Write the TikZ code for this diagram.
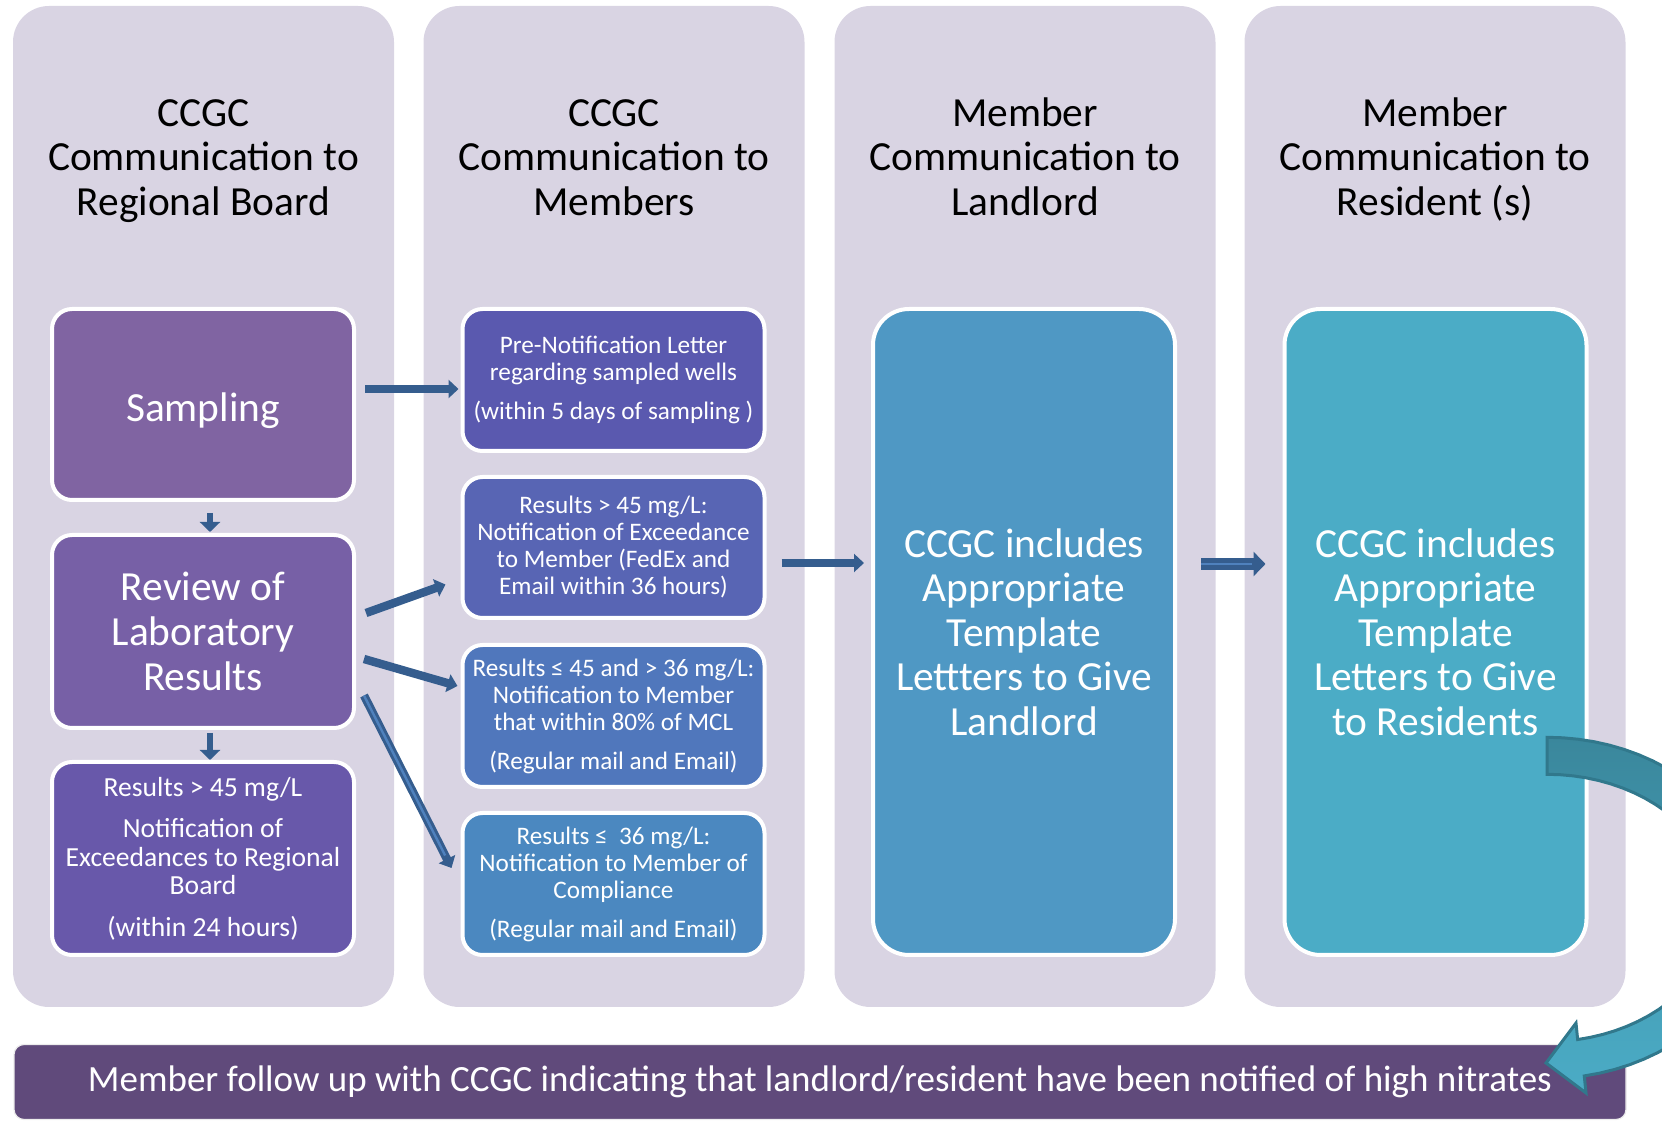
\documentclass[tikz,border=0pt]{standalone}
\usepackage{fontspec}
\setmainfont{Carlito}
\usepackage{xcolor}
\usetikzlibrary{arrows.meta}

\definecolor{colgray}{HTML}{D9D4E3}
\definecolor{sampcol}{HTML}{8064A2}
\definecolor{revcol}{HTML}{7760A6}
\definecolor{regcol}{HTML}{6858AA}
\definecolor{precol}{HTML}{5A59AF}
\definecolor{highcol}{HTML}{5865B4}
\definecolor{midcol}{HTML}{5077BC}
\definecolor{lowcol}{HTML}{4B88C0}
\definecolor{landcol}{HTML}{4F98C4}
\definecolor{rescol}{HTML}{4BACC6}
\definecolor{barcol}{HTML}{604A7B}
\definecolor{arrowblue}{HTML}{355D8E}
\definecolor{stripeblue}{HTML}{4F81BD}
\definecolor{curvetop}{HTML}{3A879C}
\definecolor{curveedge}{HTML}{31788C}

\begin{document}
\begin{tikzpicture}[x=0.5pt,y=-0.5pt,
        every node/.style = {align=center, inner sep=0pt},
        colbg/.style = {rectangle, rounded corners=18pt, fill=colgray,
            minimum width=190.5pt, minimum height=500.5pt},
        head/.style = {text=black, font=\fontsize{20.7}{22.3}\selectfont},
        stepbox/.style = {rectangle, rounded corners=10pt, draw=white,
            line width=2pt, text=white, minimum width=151pt},
        bigbox/.style = {stepbox, rounded corners=18pt, minimum height=323pt},
        bigtext/.style = {font=\fontsize{20.7}{22.3}\selectfont},
        smalltext/.style = {font=\fontsize{12.6}{13.5}\selectfont},
        blockarrow/.style = {draw=arrowblue, line width=4.2pt,
            -{Triangle[length=5pt,width=9pt]}},
        downarrow/.style = {draw=arrowblue, line width=3pt,
            -{Triangle[length=5pt,width=10pt]}},
        stripe/.style = {postaction={draw=stripeblue, line width=1.2pt,
            shorten >=7pt, -}}]
    \useasboundingbox (0,0) rectangle (1662,1122);

    \node[colbg] (col1) at (203.5,506.5) {};
    \node[colbg] (col2) at (614,506.5) {};
    \node[colbg] (col3) at (1025,506.5) {};
    \node[colbg] (col4) at (1435,506.5) {};

    \node[head] (h1) at (203.5,162) {\strut CCGC\\Communication to\\Regional Board\strut};
    \node[head] (h2) at (614,162) {\strut CCGC\\Communication to\\Members\strut};
    \node[head] (h3) at (1025,162) {\strut Member\\Communication to\\Landlord\strut};
    \node[head] (h4) at (1435,162) {\strut Member\\Communication to\\Resident (s)\strut};

    \node[stepbox, bigtext, fill=sampcol, minimum height=95.5pt,
        text height=16.6pt, text depth=0pt] (samp) at (203,404.5) {Sampling};
    \node[stepbox, bigtext, fill=revcol, minimum height=96.5pt] (rev) at (203,631.5)
        {Review of\\Laboratory\\Results};
    \node[stepbox, fill=regcol, minimum height=96.5pt,
        font=\fontsize{13.8}{14.3}\selectfont] (reg) at (203,858.5)
        {Results > 45 mg/L\\[6.4pt]Notification of\\Exceedances to Regional\\Board\\[6.4pt](within 24 hours)};

    \node[stepbox, smalltext, fill=precol, minimum height=71pt] (pre) at (613.5,380)
        {Pre-Notification Letter\\regarding sampled wells\\[6pt](within 5 days of sampling )};
    \node[stepbox, smalltext, fill=highcol, minimum height=70.5pt] (high) at (613.5,547.5)
        {Results > 45 mg/L:\\Notification of Exceedance\\to Member (FedEx and\\Email within 36 hours)};
    \node[stepbox, smalltext, fill=midcol, minimum height=71pt] (mid) at (613.5,716)
        {Results ≤ 45 and > 36 mg/L:\\Notification to Member\\that within 80\% of MCL\\[6pt](Regular mail and Email)};
    \node[stepbox, smalltext, fill=lowcol, minimum height=71pt] (low) at (613.5,884)
        {Results ≤\ \ 36 mg/L:\\Notification to Member of\\Compliance\\[6pt](Regular mail and Email)};

    \node[bigbox, bigtext, fill=landcol] (land) at (1024,632)
        {CCGC includes\\Appropriate\\Template\\Lettters to Give\\Landlord};
    \node[bigbox, bigtext, fill=rescol] (res) at (1435.5,632)
        {CCGC includes\\Appropriate\\Template\\Letters to Give\\to Residents};

    \node[rectangle, rounded corners=5pt, fill=barcol, draw=white!85!gray, line width=0.6pt,
        minimum width=806pt, minimum height=37.5pt, text=white,
        font=\fontsize{18.5}{20}\selectfont] (bar) at (820,1082)
        {Member follow up with CCGC indicating that landlord/resident have been notified of high nitrates};

    \draw[blockarrow] ([xshift=4.5pt,yshift=7.75pt]samp.east) -- ([xshift=-1pt,yshift=-4.5pt]pre.west);
    \draw[downarrow] ([xshift=3.5pt,yshift=-5.5pt]samp.south) -- ([xshift=3.5pt,yshift=0.5pt]rev.north);
    \draw[downarrow] ([xshift=3.5pt,yshift=-1.5pt]rev.south) -- ([xshift=3.5pt]reg.north);
    \draw[blockarrow] ([xshift=5pt,yshift=9.25pt]rev.east) -- ([xshift=-7.5pt,yshift=-18.5pt]high.west);
    \draw[blockarrow] ([xshift=4pt,yshift=-13.75pt]rev.east) -- ([xshift=-1.5pt,yshift=15pt]mid.west);
    \draw[blockarrow, stripe] ([xshift=4pt,yshift=-32pt]rev.east) -- ([xshift=-4.5pt,yshift=8pt]low.west);
    \draw[blockarrow] ([xshift=7.5pt,yshift=-7.75pt]high.east) -- ([xshift=-3.5pt,yshift=34.5pt]land.west);
    \draw[blockarrow, stripe, line width=6.3pt, -{Triangle[length=6pt,width=12pt]}]
        ([xshift=12pt,yshift=34pt]land.east) -- ([xshift=-8.5pt,yshift=34pt]res.west);

    \begin{scope}
        \clip (0,0) rectangle (1662,1122);
        \path[draw=curveedge, line width=1.5pt, top color=curvetop, bottom color=rescol]
            plot[domain=90:-79.7, samples=40] ({1547+208.5*cos(\x)},{908-170.7*sin(\x)})
            -- (1586,1093) -- (1546,1063) -- (1576,1023)
            -- plot[domain=-79.7:90, samples=40] ({1547+171.5*cos(\x)},{908-133.7*sin(\x)})
            -- cycle;
    \end{scope}
\end{tikzpicture}
\end{document}
